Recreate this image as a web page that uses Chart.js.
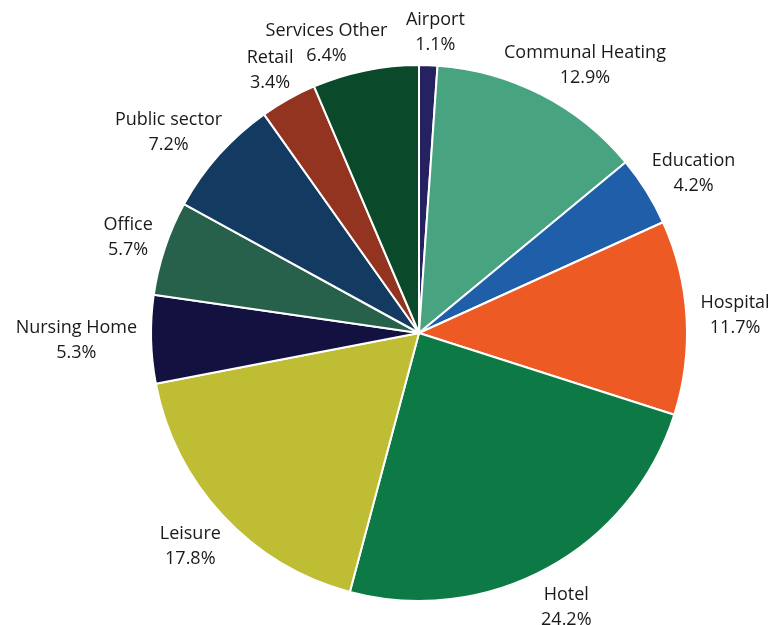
<!DOCTYPE html>
<html>
<head>
<meta charset="utf-8">
<script src="https://cdn.jsdelivr.net/npm/chart.js@4/dist/chart.umd.min.js"></script>
<style>
  html, body { margin: 0; padding: 0; background: #fff; }
  #wrap { width: 775px; height: 625px; }
</style>
</head>
<body>
<div id="wrap"><canvas id="pie"></canvas></div>
<script>
var categories = ["Airport", "Communal Heating", "Education", "Hospital", "Hotel", "Leisure",
  "Nursing Home", "Office", "Public sector", "Retail", "Services Other"];
var shares = [1.1, 12.9, 4.2, 11.7, 24.2, 17.8, 5.3, 5.7, 7.2, 3.4, 6.4];
var colors = ["#262262", "#47a380", "#1f5faa", "#ee5a24", "#0d7a45", "#bebd33",
  "#131140", "#27614b", "#133b62", "#933421", "#0a4a2a"];

// labels sit just outside the rim; neighbours that overlap get rotated apart
var outsideLabels = {
  id: 'outsideLabels',
  afterDraw: function(chart) {
    var ctx = chart.ctx;
    var meta = chart.getDatasetMeta(0);
    var lineH = 25, pad = 14;
    ctx.save();
    ctx.font = '18px "Open Sans", "Noto Sans", sans-serif';
    ctx.fillStyle = '#1a1a1a';
    ctx.textAlign = 'center';
    ctx.textBaseline = 'middle';

    var items = meta.data.map(function(arc, i) {
      var p = arc.getProps(['x', 'y', 'startAngle', 'endAngle', 'outerRadius'], true);
      var line1 = categories[i];
      var line2 = shares[i].toFixed(1) + '%';
      var w = Math.max(ctx.measureText(line1).width, ctx.measureText(line2).width);
      return { p: p, a: (p.startAngle + p.endAngle) / 2, w: w, l1: line1, l2: line2 };
    });

    function place(it) {
      var dx = Math.cos(it.a), dy = Math.sin(it.a);
      var r = it.p.outerRadius + pad;
      var halfH = dy > 0 ? 31 : 19;
      it.cx = it.p.x + dx * r + dx * it.w / 2;
      it.cy = it.p.y + dy * r + dy * halfH;
    }
    function overlap(a, b) {
      return Math.abs(a.cx - b.cx) < (a.w + b.w) / 2 + 18 &&
             Math.abs(a.cy - b.cy) < lineH * 1.05;
    }

    items.forEach(place);
    for (var k = 0; k < 300; k++) {
      var moved = false;
      for (var i = 0; i < items.length; i++) {
        var a = items[i], b = items[(i + 1) % items.length];
        if (overlap(a, b)) {
          a.a -= 0.006; b.a += 0.0015;
          place(a); place(b);
          moved = true;
        }
      }
      if (!moved) break;
    }

    items.forEach(function(it) {
      ctx.fillText(it.l1, it.cx, it.cy - lineH / 2);
      ctx.fillText(it.l2, it.cx, it.cy + lineH / 2);
    });
    ctx.restore();
  }
};

new Chart(document.getElementById('pie'), {
  type: 'pie',
  data: {
    labels: categories,
    datasets: [{
      data: shares,
      backgroundColor: colors,
      borderColor: '#ffffff',
      borderWidth: 2
    }]
  },
  options: {
    responsive: true,
    maintainAspectRatio: false,
    animation: false,
    layout: { padding: { top: 64, bottom: 23, left: 150, right: 87 } },
    plugins: {
      legend: { display: false },
      tooltip: { enabled: false }
    }
  },
  plugins: [outsideLabels]
});
</script>
</body>
</html>
